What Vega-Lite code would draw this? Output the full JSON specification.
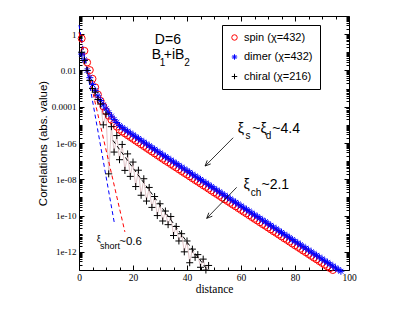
{
  "$schema": "https://vega.github.io/schema/vega-lite/v6.json",
  "width": 270,
  "height": 254,
  "autosize": "none",
  "padding": {"left": 79, "top": 16, "right": 62, "bottom": 48},
  "background": "white",
  "config": {
    "view": {"stroke": null},
    "font": "Liberation Sans",
    "axis": {"grid": false, "domainColor": "black", "tickColor": "black", "labelColor": "black", "titleColor": "black", "domainWidth": 1, "tickWidth": 1}
  },
  "resolve": {"axis": {"x": "independent", "y": "independent"}},
  "datasets": {
    "corr": [
      {"s":"spin (χ=432)","d":1,"v":5.754e-1},{"s":"spin (χ=432)","d":2,"v":1.202e-1},{"s":"spin (χ=432)","d":3,"v":2.754e-2},{"s":"spin (χ=432)","d":4,"v":1.047e-2},{"s":"spin (χ=432)","d":5,"v":3.467e-3},{"s":"spin (χ=432)","d":6,"v":1.175e-3},{"s":"spin (χ=432)","d":7,"v":4.677e-4},{"s":"spin (χ=432)","d":8,"v":2.089e-4},{"s":"spin (χ=432)","d":9,"v":1.047e-4},{"s":"spin (χ=432)","d":10,"v":5.623e-5},
      {"s":"spin (χ=432)","d":11,"v":3.162e-5},{"s":"spin (χ=432)","d":12,"v":1.905e-5},{"s":"spin (χ=432)","d":13,"v":1.202e-5},{"s":"spin (χ=432)","d":14,"v":7.943e-6},{"s":"spin (χ=432)","d":15,"v":5.370e-6},{"s":"spin (χ=432)","d":16,"v":4.266e-6},{"s":"spin (χ=432)","d":17,"v":3.388e-6},{"s":"spin (χ=432)","d":18,"v":2.692e-6},{"s":"spin (χ=432)","d":19,"v":2.138e-6},{"s":"spin (χ=432)","d":20,"v":1.698e-6},
      {"s":"spin (χ=432)","d":21,"v":1.349e-6},{"s":"spin (χ=432)","d":22,"v":1.072e-6},{"s":"spin (χ=432)","d":23,"v":8.511e-7},{"s":"spin (χ=432)","d":24,"v":6.761e-7},{"s":"spin (χ=432)","d":25,"v":5.370e-7},{"s":"spin (χ=432)","d":26,"v":4.266e-7},{"s":"spin (χ=432)","d":27,"v":3.388e-7},{"s":"spin (χ=432)","d":28,"v":2.692e-7},{"s":"spin (χ=432)","d":29,"v":2.138e-7},{"s":"spin (χ=432)","d":30,"v":1.698e-7},
      {"s":"spin (χ=432)","d":31,"v":1.349e-7},{"s":"spin (χ=432)","d":32,"v":1.072e-7},{"s":"spin (χ=432)","d":33,"v":8.710e-8},{"s":"spin (χ=432)","d":34,"v":6.918e-8},{"s":"spin (χ=432)","d":35,"v":5.495e-8},{"s":"spin (χ=432)","d":36,"v":4.467e-8},{"s":"spin (χ=432)","d":37,"v":3.548e-8},{"s":"spin (χ=432)","d":38,"v":2.818e-8},{"s":"spin (χ=432)","d":39,"v":2.239e-8},{"s":"spin (χ=432)","d":40,"v":1.820e-8},
      {"s":"spin (χ=432)","d":41,"v":1.445e-8},{"s":"spin (χ=432)","d":42,"v":1.148e-8},{"s":"spin (χ=432)","d":43,"v":9.120e-9},{"s":"spin (χ=432)","d":44,"v":7.413e-9},{"s":"spin (χ=432)","d":45,"v":5.888e-9},{"s":"spin (χ=432)","d":46,"v":4.677e-9},{"s":"spin (χ=432)","d":47,"v":3.802e-9},{"s":"spin (χ=432)","d":48,"v":3.020e-9},{"s":"spin (χ=432)","d":49,"v":2.399e-9},{"s":"spin (χ=432)","d":50,"v":1.905e-9},
      {"s":"spin (χ=432)","d":51,"v":1.549e-9},{"s":"spin (χ=432)","d":52,"v":1.230e-9},{"s":"spin (χ=432)","d":53,"v":9.772e-10},{"s":"spin (χ=432)","d":54,"v":7.762e-10},{"s":"spin (χ=432)","d":55,"v":6.310e-10},{"s":"spin (χ=432)","d":56,"v":5.012e-10},{"s":"spin (χ=432)","d":57,"v":3.981e-10},{"s":"spin (χ=432)","d":58,"v":3.236e-10},{"s":"spin (χ=432)","d":59,"v":2.570e-10},{"s":"spin (χ=432)","d":60,"v":2.042e-10},
      {"s":"spin (χ=432)","d":61,"v":1.622e-10},{"s":"spin (χ=432)","d":62,"v":1.318e-10},{"s":"spin (χ=432)","d":63,"v":1.047e-10},{"s":"spin (χ=432)","d":64,"v":8.318e-11},{"s":"spin (χ=432)","d":65,"v":6.607e-11},{"s":"spin (χ=432)","d":66,"v":5.370e-11},{"s":"spin (χ=432)","d":67,"v":4.266e-11},{"s":"spin (χ=432)","d":68,"v":3.388e-11},{"s":"spin (χ=432)","d":69,"v":2.754e-11},{"s":"spin (χ=432)","d":70,"v":2.188e-11},
      {"s":"spin (χ=432)","d":71,"v":1.738e-11},{"s":"spin (χ=432)","d":72,"v":1.380e-11},{"s":"spin (χ=432)","d":73,"v":1.122e-11},{"s":"spin (χ=432)","d":74,"v":8.913e-12},{"s":"spin (χ=432)","d":75,"v":7.079e-12},{"s":"spin (χ=432)","d":76,"v":5.623e-12},{"s":"spin (χ=432)","d":77,"v":4.571e-12},{"s":"spin (χ=432)","d":78,"v":3.631e-12},{"s":"spin (χ=432)","d":79,"v":2.884e-12},{"s":"spin (χ=432)","d":80,"v":2.291e-12},
      {"s":"spin (χ=432)","d":81,"v":1.862e-12},{"s":"spin (χ=432)","d":82,"v":1.479e-12},{"s":"spin (χ=432)","d":83,"v":1.175e-12},{"s":"spin (χ=432)","d":84,"v":9.550e-13},{"s":"spin (χ=432)","d":85,"v":7.586e-13},{"s":"spin (χ=432)","d":86,"v":6.026e-13},{"s":"spin (χ=432)","d":87,"v":4.786e-13},{"s":"spin (χ=432)","d":88,"v":3.890e-13},{"s":"spin (χ=432)","d":89,"v":3.090e-13},{"s":"spin (χ=432)","d":90,"v":2.455e-13},
      {"s":"spin (χ=432)","d":91,"v":1.950e-13},{"s":"spin (χ=432)","d":92,"v":1.585e-13},{"s":"spin (χ=432)","d":93,"v":1.259e-13},{"s":"spin (χ=432)","d":94,"v":1.0e-13},
      {"s":"dimer (χ=432)","d":1,"v":7.943e-2},{"s":"dimer (χ=432)","d":2,"v":3.802e-2},{"s":"dimer (χ=432)","d":3,"v":1.0e-2},{"s":"dimer (χ=432)","d":4,"v":3.981e-3},{"s":"dimer (χ=432)","d":5,"v":1.660e-3},{"s":"dimer (χ=432)","d":6,"v":7.943e-4},{"s":"dimer (χ=432)","d":7,"v":3.981e-4},{"s":"dimer (χ=432)","d":8,"v":2.188e-4},{"s":"dimer (χ=432)","d":9,"v":1.259e-4},{"s":"dimer (χ=432)","d":10,"v":7.586e-5},
      {"s":"dimer (χ=432)","d":11,"v":4.677e-5},{"s":"dimer (χ=432)","d":12,"v":3.020e-5},{"s":"dimer (χ=432)","d":13,"v":1.995e-5},{"s":"dimer (χ=432)","d":14,"v":1.349e-5},{"s":"dimer (χ=432)","d":15,"v":9.120e-6},{"s":"dimer (χ=432)","d":16,"v":7.079e-6},{"s":"dimer (χ=432)","d":17,"v":5.623e-6},{"s":"dimer (χ=432)","d":18,"v":4.467e-6},{"s":"dimer (χ=432)","d":19,"v":3.548e-6},{"s":"dimer (χ=432)","d":20,"v":2.818e-6},
      {"s":"dimer (χ=432)","d":21,"v":2.239e-6},{"s":"dimer (χ=432)","d":22,"v":1.778e-6},{"s":"dimer (χ=432)","d":23,"v":1.413e-6},{"s":"dimer (χ=432)","d":24,"v":1.122e-6},{"s":"dimer (χ=432)","d":25,"v":8.913e-7},{"s":"dimer (χ=432)","d":26,"v":7.079e-7},{"s":"dimer (χ=432)","d":27,"v":5.623e-7},{"s":"dimer (χ=432)","d":28,"v":4.467e-7},{"s":"dimer (χ=432)","d":29,"v":3.548e-7},{"s":"dimer (χ=432)","d":30,"v":2.818e-7},
      {"s":"dimer (χ=432)","d":31,"v":2.239e-7},{"s":"dimer (χ=432)","d":32,"v":1.778e-7},{"s":"dimer (χ=432)","d":33,"v":1.445e-7},{"s":"dimer (χ=432)","d":34,"v":1.148e-7},{"s":"dimer (χ=432)","d":35,"v":9.120e-8},{"s":"dimer (χ=432)","d":36,"v":7.413e-8},{"s":"dimer (χ=432)","d":37,"v":5.888e-8},{"s":"dimer (χ=432)","d":38,"v":4.677e-8},{"s":"dimer (χ=432)","d":39,"v":3.715e-8},{"s":"dimer (χ=432)","d":40,"v":3.020e-8},
      {"s":"dimer (χ=432)","d":41,"v":2.399e-8},{"s":"dimer (χ=432)","d":42,"v":1.905e-8},{"s":"dimer (χ=432)","d":43,"v":1.514e-8},{"s":"dimer (χ=432)","d":44,"v":1.230e-8},{"s":"dimer (χ=432)","d":45,"v":9.772e-9},{"s":"dimer (χ=432)","d":46,"v":7.762e-9},{"s":"dimer (χ=432)","d":47,"v":6.310e-9},{"s":"dimer (χ=432)","d":48,"v":5.012e-9},{"s":"dimer (χ=432)","d":49,"v":3.981e-9},{"s":"dimer (χ=432)","d":50,"v":3.162e-9},
      {"s":"dimer (χ=432)","d":51,"v":2.570e-9},{"s":"dimer (χ=432)","d":52,"v":2.042e-9},{"s":"dimer (χ=432)","d":53,"v":1.622e-9},{"s":"dimer (χ=432)","d":54,"v":1.288e-9},{"s":"dimer (χ=432)","d":55,"v":1.047e-9},{"s":"dimer (χ=432)","d":56,"v":8.318e-10},{"s":"dimer (χ=432)","d":57,"v":6.607e-10},{"s":"dimer (χ=432)","d":58,"v":5.370e-10},{"s":"dimer (χ=432)","d":59,"v":4.266e-10},{"s":"dimer (χ=432)","d":60,"v":3.388e-10},
      {"s":"dimer (χ=432)","d":61,"v":2.692e-10},{"s":"dimer (χ=432)","d":62,"v":2.188e-10},{"s":"dimer (χ=432)","d":63,"v":1.738e-10},{"s":"dimer (χ=432)","d":64,"v":1.380e-10},{"s":"dimer (χ=432)","d":65,"v":1.096e-10},{"s":"dimer (χ=432)","d":66,"v":8.913e-11},{"s":"dimer (χ=432)","d":67,"v":7.079e-11},{"s":"dimer (χ=432)","d":68,"v":5.623e-11},{"s":"dimer (χ=432)","d":69,"v":4.571e-11},{"s":"dimer (χ=432)","d":70,"v":3.631e-11},
      {"s":"dimer (χ=432)","d":71,"v":2.884e-11},{"s":"dimer (χ=432)","d":72,"v":2.291e-11},{"s":"dimer (χ=432)","d":73,"v":1.862e-11},{"s":"dimer (χ=432)","d":74,"v":1.479e-11},{"s":"dimer (χ=432)","d":75,"v":1.175e-11},{"s":"dimer (χ=432)","d":76,"v":9.333e-12},{"s":"dimer (χ=432)","d":77,"v":7.586e-12},{"s":"dimer (χ=432)","d":78,"v":6.026e-12},{"s":"dimer (χ=432)","d":79,"v":4.786e-12},{"s":"dimer (χ=432)","d":80,"v":3.802e-12},
      {"s":"dimer (χ=432)","d":81,"v":3.090e-12},{"s":"dimer (χ=432)","d":82,"v":2.455e-12},{"s":"dimer (χ=432)","d":83,"v":1.950e-12},{"s":"dimer (χ=432)","d":84,"v":1.585e-12},{"s":"dimer (χ=432)","d":85,"v":1.259e-12},{"s":"dimer (χ=432)","d":86,"v":1.0e-12},{"s":"dimer (χ=432)","d":87,"v":7.943e-13},{"s":"dimer (χ=432)","d":88,"v":6.457e-13},{"s":"dimer (χ=432)","d":89,"v":5.129e-13},{"s":"dimer (χ=432)","d":90,"v":4.074e-13},
      {"s":"dimer (χ=432)","d":91,"v":3.236e-13},{"s":"dimer (χ=432)","d":92,"v":2.630e-13},{"s":"dimer (χ=432)","d":93,"v":2.089e-13},{"s":"dimer (χ=432)","d":94,"v":1.660e-13},{"s":"dimer (χ=432)","d":95,"v":1.318e-13},{"s":"dimer (χ=432)","d":96,"v":1.072e-13},{"s":"dimer (χ=432)","d":97,"v":8.511e-14},
      {"s":"chiral (χ=216)","d":1,"v":1.0e-1},{"s":"chiral (χ=216)","d":2,"v":3.548e-2},{"s":"chiral (χ=216)","d":3,"v":1.0e-2},{"s":"chiral (χ=216)","d":4,"v":2.818e-3},{"s":"chiral (χ=216)","d":5,"v":1.0e-3},{"s":"chiral (χ=216)","d":6,"v":6.310e-4},{"s":"chiral (χ=216)","d":7,"v":2.512e-4},{"s":"chiral (χ=216)","d":8,"v":1.413e-4},{"s":"chiral (χ=216)","d":9,"v":1.0e-5},{"s":"chiral (χ=216)","d":10,"v":3.981e-5},
      {"s":"chiral (χ=216)","d":11,"v":1.995e-8},{"s":"chiral (χ=216)","d":12,"v":7.943e-6},{"s":"chiral (χ=216)","d":13,"v":3.162e-7},{"s":"chiral (χ=216)","d":14,"v":2.570e-6},{"s":"chiral (χ=216)","d":15,"v":1.202e-7},{"s":"chiral (χ=216)","d":16,"v":8.318e-7},{"s":"chiral (χ=216)","d":17,"v":3.090e-8},{"s":"chiral (χ=216)","d":18,"v":2.512e-7},{"s":"chiral (χ=216)","d":19,"v":1.445e-8},{"s":"chiral (χ=216)","d":20,"v":8.913e-8},
      {"s":"chiral (χ=216)","d":21,"v":3.981e-9},{"s":"chiral (χ=216)","d":22,"v":3.162e-8},{"s":"chiral (χ=216)","d":23,"v":1.318e-9},{"s":"chiral (χ=216)","d":24,"v":1.072e-8},{"s":"chiral (χ=216)","d":25,"v":6.310e-10},{"s":"chiral (χ=216)","d":26,"v":3.548e-9},{"s":"chiral (χ=216)","d":27,"v":2.818e-10},{"s":"chiral (χ=216)","d":28,"v":1.122e-9},{"s":"chiral (χ=216)","d":29,"v":1.0e-10},{"s":"chiral (χ=216)","d":30,"v":4.467e-10},
      {"s":"chiral (χ=216)","d":31,"v":5.012e-11},{"s":"chiral (χ=216)","d":32,"v":1.778e-10},{"s":"chiral (χ=216)","d":33,"v":3.162e-11},{"s":"chiral (χ=216)","d":34,"v":8.913e-11},{"s":"chiral (χ=216)","d":35,"v":7.943e-12},{"s":"chiral (χ=216)","d":36,"v":2.512e-11},{"s":"chiral (χ=216)","d":37,"v":3.981e-12},{"s":"chiral (χ=216)","d":38,"v":1.0e-11},{"s":"chiral (χ=216)","d":39,"v":1.0e-12},{"s":"chiral (χ=216)","d":40,"v":3.981e-12},
      {"s":"chiral (χ=216)","d":41,"v":2.512e-13},{"s":"chiral (χ=216)","d":42,"v":1.413e-12},{"s":"chiral (χ=216)","d":43,"v":5.012e-13},{"s":"chiral (χ=216)","d":44,"v":7.079e-13},{"s":"chiral (χ=216)","d":45,"v":1.413e-13},{"s":"chiral (χ=216)","d":46,"v":3.981e-13},{"s":"chiral (χ=216)","d":47,"v":1.0e-13},{"s":"chiral (χ=216)","d":48,"v":1.778e-13}
    ],
    "fits": [
      {"f":"spin short","d":0,"v":1.259},{"f":"spin short","d":17,"v":1.259e-11},
      {"f":"dimer short","d":0,"v":3.162},{"f":"dimer short","d":13.2,"v":3.162e-11},
      {"f":"chiral long","d":12.6,"v":1.380e-6},{"f":"chiral long","d":47.4,"v":1.072e-13}
    ],
    "notes": [
      {"k":"big","t":"D=6","d":28.1,"v":0.275},
      {"k":"big","t":"B","d":26.9,"v":0.0410},
      {"k":"big","t":"+iB","d":31.4,"v":0.0410},
      {"k":"sub","t":"1","d":29.9,"v":0.01754},
      {"k":"sub","t":"2","d":39.0,"v":0.01754},
      {"k":"big","t":"ξ","d":58.8,"v":3.42e-6},
      {"k":"sub","t":"s","d":61.7,"v":1.66e-6},
      {"k":"big","t":"~ξ","d":64.2,"v":3.42e-6},
      {"k":"sub","t":"d","d":69.2,"v":1.66e-6},
      {"k":"big","t":"~4.4","d":71.6,"v":3.42e-6},
      {"k":"big","t":"ξ","d":60.9,"v":2.793e-9},
      {"k":"sub","t":"ch","d":63.6,"v":1.274e-9},
      {"k":"big","t":"~2.1","d":67.6,"v":2.793e-9},
      {"k":"tiny","t":"ξ","d":6.56,"v":3.475e-12},
      {"k":"tiny","t":"short","d":7.78,"v":1.429e-12},
      {"k":"mid","t":"~0.6","d":14.9,"v":2.377e-12}
    ],
    "arrows": [
      {"d":57.1,"v":1.954e-6,"d2":46.7,"v2":5.383e-8},
      {"d":58.4,"v":3.606e-9,"d2":47.3,"v2":7.047e-11}
    ]
  },
  "layer": [
    {
      "data": {"name": "corr"},
      "transform": [{"filter": "datum.s == 'chiral (χ=216)'"}],
      "mark": {"type": "line", "color": "#e2c4c8", "strokeWidth": 1},
      "encoding": {
        "x": {"field": "d", "type": "quantitative", "scale": {"domain": [0, 100], "nice": false},
          "axis": {"orient": "bottom", "values": [0, 20, 40, 60, 80, 100], "ticks": false, "domain": true, "labelFont": "Liberation Serif", "labelFontSize": 9.5, "labelPadding": 2, "labelFlush": false, "title": "distance", "titleFont": "Liberation Serif", "titleFontSize": 11.5, "titleFontWeight": "normal", "titlePadding": 2}},
        "y": {"field": "v", "type": "quantitative", "scale": {"type": "log", "domain": [1e-13, 10], "nice": false},
          "axis": {"orient": "left", "values": [1, 0.01, 0.0001, 1e-6, 1e-8, 1e-10, 1e-12], "ticks": false, "domain": true, "labelExpr": "datum.value >= 0.0001 ? format(datum.value, '') : '1e-' + format(-round(log(datum.value)/LN10), '02d')", "labelFont": "Liberation Serif", "labelFontSize": 9, "labelPadding": 3, "title": "Correlations (abs. value)", "titleFont": "Liberation Sans", "titleFontSize": 11.5, "titleFontWeight": "normal", "titlePadding": 3}},
        "order": {"field": "d", "type": "quantitative"}
      }
    },
    {
      "data": {"name": "fits"},
      "mark": {"type": "line", "strokeWidth": 1, "strokeDash": [4, 3]},
      "encoding": {
        "x": {"field": "d", "type": "quantitative", "scale": {"domain": [0, 100], "nice": false},
          "axis": {"orient": "bottom", "values": [5, 10, 15, 25, 30, 35, 45, 50, 55, 65, 70, 75, 85, 90, 95], "labels": false, "domain": false, "tickSize": -3, "title": null}},
        "y": {"field": "v", "type": "quantitative", "scale": {"type": "log", "domain": [1e-13, 10], "nice": false},
          "axis": {"orient": "left", "values": [2e-13,3e-13,4e-13,5e-13,6e-13,7e-13,8e-13,9e-13,2e-12,3e-12,4e-12,5e-12,6e-12,7e-12,8e-12,9e-12,1e-11,2e-11,3e-11,4e-11,5e-11,6e-11,7e-11,8e-11,9e-11,2e-10,3e-10,4e-10,5e-10,6e-10,7e-10,8e-10,9e-10,1e-9,2e-9,3e-9,4e-9,5e-9,6e-9,7e-9,8e-9,9e-9,2e-8,3e-8,4e-8,5e-8,6e-8,7e-8,8e-8,9e-8,1e-7,2e-7,3e-7,4e-7,5e-7,6e-7,7e-7,8e-7,9e-7,2e-6,3e-6,4e-6,5e-6,6e-6,7e-6,8e-6,9e-6,1e-5,2e-5,3e-5,4e-5,5e-5,6e-5,7e-5,8e-5,9e-5,2e-4,3e-4,4e-4,5e-4,6e-4,7e-4,8e-4,9e-4,1e-3,2e-3,3e-3,4e-3,5e-3,6e-3,7e-3,8e-3,9e-3,2e-2,3e-2,4e-2,5e-2,6e-2,7e-2,8e-2,9e-2,0.1,0.2,0.3,0.4,0.5,0.6,0.7,0.8,0.9,2,3,4,5,6,7,8,9], "labels": false, "domain": false, "tickSize": -3, "title": null}},
        "stroke": {"field": "f", "type": "nominal", "scale": {"domain": ["spin short", "dimer short", "chiral long"], "range": ["#ff0000", "#0000ff", "#000000"]}, "legend": null},
        "detail": {"field": "f"}
      }
    },
    {
      "data": {"name": "corr"},
      "mark": {"type": "point", "filled": false, "size": 49, "strokeWidth": 1, "opacity": 1},
      "encoding": {
        "x": {"field": "d", "type": "quantitative", "scale": {"domain": [0, 100], "nice": false},
          "axis": {"orient": "bottom", "values": [0, 20, 40, 60, 80, 100], "labels": false, "domain": false, "tickSize": -5, "title": null}},
        "y": {"field": "v", "type": "quantitative", "scale": {"type": "log", "domain": [1e-13, 10], "nice": false},
          "axis": {"orient": "left", "values": [1, 0.01, 0.0001, 1e-6, 1e-8, 1e-10, 1e-12], "labels": false, "domain": false, "tickSize": -5, "title": null}},
        "color": {"field": "s", "type": "nominal", "scale": {"domain": ["spin (χ=432)", "dimer (χ=432)", "chiral (χ=216)"], "range": ["#ff0000", "#0000ff", "#000000"]},
          "legend": {"orient": "none", "legendX": 143, "legendY": 9, "title": null, "strokeColor": "black", "fillColor": "white", "padding": 7, "labelFont": "Liberation Sans", "labelFontSize": 11, "labelColor": "black", "symbolSize": 30, "symbolStrokeWidth": 1, "rowPadding": 7.5, "labelOffset": 4}},
        "shape": {"field": "s", "type": "nominal", "scale": {"domain": ["spin (χ=432)", "dimer (χ=432)", "chiral (χ=216)"], "range": ["circle", "M-1,0L1,0M0,-1L0,1M-0.7,-0.7L0.7,0.7M-0.7,0.7L0.7,-0.7", "M-1,0L1,0M0,-1L0,1"]}}
      }
    },
    {
      "data": {"name": "arrows"},
      "mark": {"type": "rule", "color": "black", "strokeWidth": 0.8},
      "encoding": {
        "x": {"field": "d", "type": "quantitative", "scale": {"domain": [0, 100], "nice": false},
          "axis": {"orient": "top", "values": [0, 20, 40, 60, 80, 100], "labels": false, "domain": true, "tickSize": -5, "title": null}},
        "y": {"field": "v", "type": "quantitative", "scale": {"type": "log", "domain": [1e-13, 10], "nice": false},
          "axis": {"orient": "right", "values": [1, 0.01, 0.0001, 1e-6, 1e-8, 1e-10, 1e-12], "labels": false, "domain": true, "tickSize": -5, "title": null}},
        "x2": {"field": "d2"},
        "y2": {"field": "v2"}
      }
    },
    {
      "data": {"name": "arrows"},
      "mark": {"type": "point", "filled": false, "color": "black", "strokeWidth": 0.8, "size": 120, "angle": 45, "shape": "M-0.45,-1L0,0L0.45,-1", "opacity": 1},
      "encoding": {
        "x": {"field": "d2", "type": "quantitative", "scale": {"domain": [0, 100], "nice": false},
          "axis": {"orient": "top", "values": [5, 10, 15, 25, 30, 35, 45, 50, 55, 65, 70, 75, 85, 90, 95], "labels": false, "domain": false, "tickSize": -3, "title": null}},
        "y": {"field": "v2", "type": "quantitative", "scale": {"type": "log", "domain": [1e-13, 10], "nice": false},
          "axis": {"orient": "right", "values": [2e-13,3e-13,4e-13,5e-13,6e-13,7e-13,8e-13,9e-13,2e-12,3e-12,4e-12,5e-12,6e-12,7e-12,8e-12,9e-12,1e-11,2e-11,3e-11,4e-11,5e-11,6e-11,7e-11,8e-11,9e-11,2e-10,3e-10,4e-10,5e-10,6e-10,7e-10,8e-10,9e-10,1e-9,2e-9,3e-9,4e-9,5e-9,6e-9,7e-9,8e-9,9e-9,2e-8,3e-8,4e-8,5e-8,6e-8,7e-8,8e-8,9e-8,1e-7,2e-7,3e-7,4e-7,5e-7,6e-7,7e-7,8e-7,9e-7,2e-6,3e-6,4e-6,5e-6,6e-6,7e-6,8e-6,9e-6,1e-5,2e-5,3e-5,4e-5,5e-5,6e-5,7e-5,8e-5,9e-5,2e-4,3e-4,4e-4,5e-4,6e-4,7e-4,8e-4,9e-4,1e-3,2e-3,3e-3,4e-3,5e-3,6e-3,7e-3,8e-3,9e-3,2e-2,3e-2,4e-2,5e-2,6e-2,7e-2,8e-2,9e-2,0.1,0.2,0.3,0.4,0.5,0.6,0.7,0.8,0.9,2,3,4,5,6,7,8,9], "labels": false, "domain": false, "tickSize": -3, "title": null}}
      }
    },
    {
      "data": {"name": "notes"},
      "transform": [{"filter": "datum.k == 'big'"}],
      "mark": {"type": "text", "align": "left", "baseline": "alphabetic", "font": "Liberation Sans", "fontSize": 14, "color": "black"},
      "encoding": {
        "x": {"field": "d", "type": "quantitative", "axis": null},
        "y": {"field": "v", "type": "quantitative", "scale": {"type": "log"}, "axis": null},
        "text": {"field": "t"}
      }
    },
    {
      "data": {"name": "notes"},
      "transform": [{"filter": "datum.k == 'sub'"}],
      "mark": {"type": "text", "align": "left", "baseline": "alphabetic", "font": "Liberation Sans", "fontSize": 10, "color": "black"},
      "encoding": {
        "x": {"field": "d", "type": "quantitative", "axis": null},
        "y": {"field": "v", "type": "quantitative", "scale": {"type": "log"}, "axis": null},
        "text": {"field": "t"}
      }
    },
    {
      "data": {"name": "notes"},
      "transform": [{"filter": "datum.k == 'tiny'"}],
      "mark": {"type": "text", "align": "left", "baseline": "alphabetic", "font": "Liberation Sans", "fontSize": 9, "color": "black"},
      "encoding": {
        "x": {"field": "d", "type": "quantitative", "axis": null},
        "y": {"field": "v", "type": "quantitative", "scale": {"type": "log"}, "axis": null},
        "text": {"field": "t"}
      }
    },
    {
      "data": {"name": "notes"},
      "transform": [{"filter": "datum.k == 'mid'"}],
      "mark": {"type": "text", "align": "left", "baseline": "alphabetic", "font": "Liberation Sans", "fontSize": 11.5, "color": "black"},
      "encoding": {
        "x": {"field": "d", "type": "quantitative", "axis": null},
        "y": {"field": "v", "type": "quantitative", "scale": {"type": "log"}, "axis": null},
        "text": {"field": "t"}
      }
    }
  ]
}
